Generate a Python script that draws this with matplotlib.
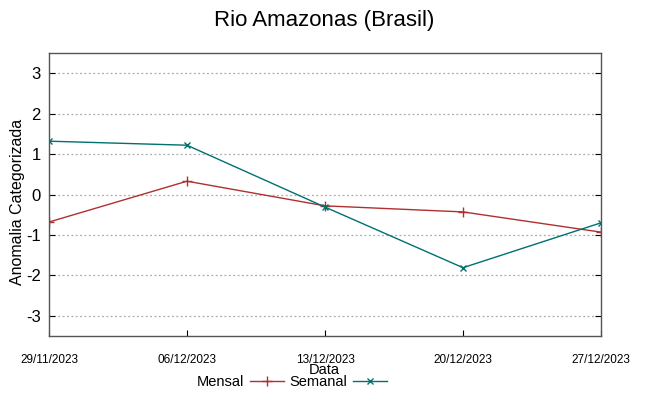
import matplotlib
matplotlib.use("Agg")
import matplotlib.pyplot as plt

plt.rcParams['font.family'] = ['Liberation Sans', 'DejaVu Sans']
plt.rcParams['axes.unicode_minus'] = False

datas = ["29/11/2023", "06/12/2023", "13/12/2023", "20/12/2023", "27/12/2023"]
mensal = [-0.68, 0.33, -0.28, -0.43, -0.93]
semanal = [1.32, 1.22, -0.31, -1.81, -0.70]

def main():
    fig = plt.figure(figsize=(6.49, 3.96), dpi=100)
    ax = fig.add_axes([0.0755, 0.1515, 0.8505, 0.7145])
    x = list(range(len(datas)))

    ax.plot(x, mensal, color='#b03030', lw=1.0, marker='+', ms=7, mew=1.0, label='Mensal')
    ax.plot(x, semanal, color='#007070', lw=1.0, marker='x', ms=5, mew=1.0, label='Semanal')

    ax.set_xlim(0, 4)
    ax.set_ylim(-3.5, 3.5)
    ax.set_yticks([-3, -2, -1, 0, 1, 2, 3])
    ax.set_xticks(x)
    ax.set_xticklabels(datas, fontsize=8.5)
    ax.tick_params(axis='y', labelsize=12, direction='in', length=4, pad=6)
    ax.tick_params(axis='x', direction='in', length=4, pad=13)
    ax.tick_params(top=False, right=True, direction='in')
    ax.yaxis.grid(True, linestyle=(0, (1.5, 2)), color='#aaaaaa', lw=0.9)

    for s in ax.spines.values():
        s.set_color('#555555')
        s.set_linewidth(1.0)

    fig.text(18 / 649, 1 - 202 / 396, 'Anomalia Categorizada', rotation=90,
             ha='center', va='center', fontsize=11.5)
    fig.text(0.5, 1 - 370 / 396, 'Data', ha='center', va='center', fontsize=10.5)
    fig.suptitle('Rio Amazonas (Brasil)', fontsize=16, y=0.975)

    fig.legend(loc='center', bbox_to_anchor=(0.45, 1 - 382 / 396), ncol=2, frameon=False,
               markerfirst=False, fontsize=10.5,
               handlelength=2.3, columnspacing=0.4, handletextpad=0.4)

    fig.savefig('out.png', dpi=100)

if __name__ == "__main__":
    main()
